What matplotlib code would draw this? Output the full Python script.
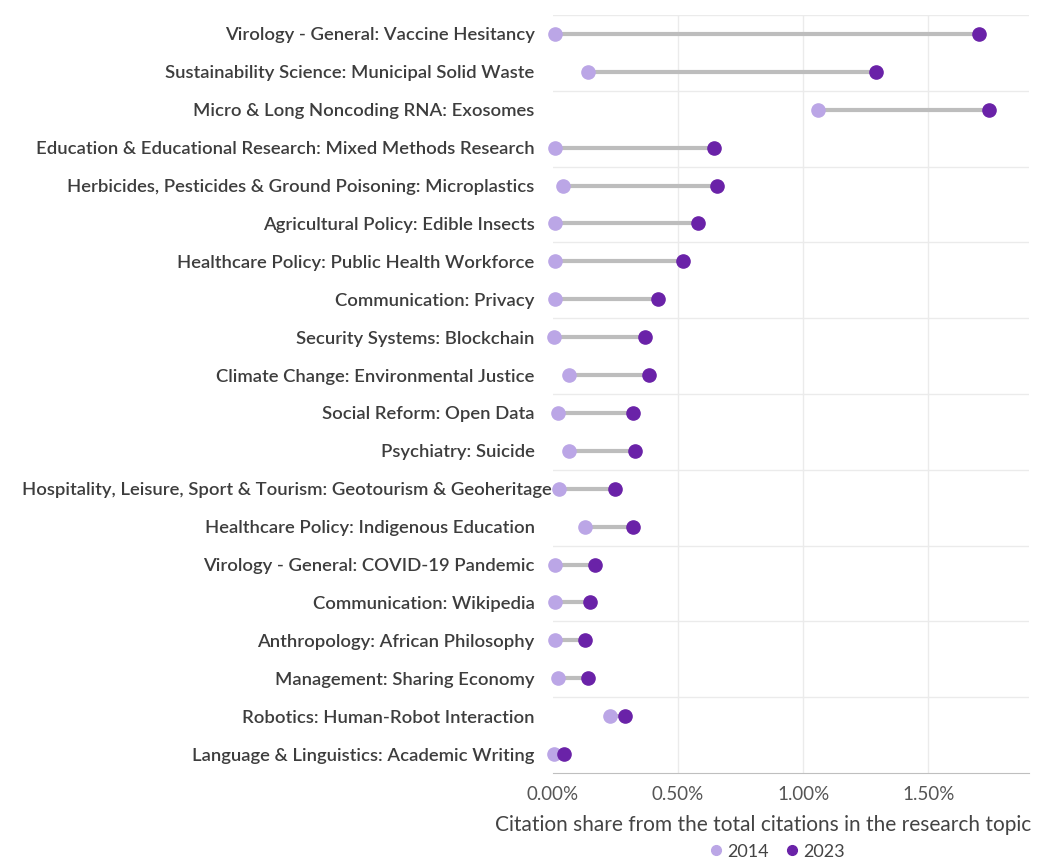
import matplotlib
matplotlib.use("Agg")
import matplotlib.pyplot as plt
import matplotlib.transforms as mtransforms
from matplotlib.ticker import FuncFormatter
from matplotlib.lines import Line2D

# topics, top to bottom
topics = [
    "Virology - General: Vaccine Hesitancy",
    "Sustainability Science: Municipal Solid Waste",
    "Micro & Long Noncoding RNA: Exosomes",
    "Education & Educational Research: Mixed Methods Research",
    "Herbicides, Pesticides & Ground Poisoning: Microplastics",
    "Agricultural Policy: Edible Insects",
    "Healthcare Policy: Public Health Workforce",
    "Communication: Privacy",
    "Security Systems: Blockchain",
    "Climate Change: Environmental Justice",
    "Social Reform: Open Data",
    "Psychiatry: Suicide",
    "Hospitality, Leisure, Sport & Tourism: Geotourism & Geoheritage",
    "Healthcare Policy: Indigenous Education",
    "Virology - General: COVID-19 Pandemic",
    "Communication: Wikipedia",
    "Anthropology: African Philosophy",
    "Management: Sharing Economy",
    "Robotics: Human-Robot Interaction",
    "Language & Linguistics: Academic Writing",
]

# citation share in %
share_2014 = [0.01, 0.14, 1.06, 0.01, 0.04, 0.01, 0.01, 0.01, 0.005, 0.065,
              0.02, 0.065, 0.025, 0.13, 0.01, 0.01, 0.01, 0.02, 0.23, 0.005]
share_2023 = [1.70, 1.29, 1.74, 0.645, 0.655, 0.58, 0.52, 0.42, 0.37, 0.385,
              0.32, 0.33, 0.25, 0.32, 0.17, 0.15, 0.13, 0.14, 0.29, 0.045]

c14 = "#BBA6E6"
c23 = "#6A22A8"
txt = "#3d3d3d"

fig = plt.figure(figsize=(10.37, 8.61), dpi=100)
ax = fig.add_axes([0.533, 0.1022, 0.992 - 0.533, 0.9826 - 0.1022])

y = list(range(len(topics)))
for i in y:
    ax.plot([share_2014[i], share_2023[i]], [i, i], color="#BDBDBD", lw=3,
            solid_capstyle="butt", zorder=2, clip_on=False)
ax.plot(share_2014, y, "o", color=c14, ms=9.5, zorder=3, label="2014", clip_on=False)
ax.plot(share_2023, y, "o", color=c23, ms=9.5, zorder=4, label="2023", clip_on=False)

ax.set_ylim(len(topics) - 0.5, -0.5)
ax.set_xlim(0, 1.9)
ax.set_xticks([0, 0.5, 1.0, 1.5])
ax.xaxis.set_major_formatter(FuncFormatter(lambda v, p: "%.2f%%" % v))

# grid lines between every second row
for g in range(0, len(topics), 2):
    ax.axhline(g - 0.5, color="#EBEBEB", lw=1, zorder=0)
for xv in [0.5, 1.0, 1.5]:
    ax.axvline(xv, color="#EBEBEB", lw=1, zorder=0)

for s in ["top", "right", "left"]:
    ax.spines[s].set_visible(False)
ax.spines["bottom"].set_color("#BFBFBF")

ax.set_yticks(y)
ax.set_yticklabels(topics, fontsize=13.3, color=txt, fontfamily="Lato",
                   fontweight="semibold")
ax.tick_params(axis="y", length=0, pad=13)
ax.tick_params(axis="x", length=0, pad=9, labelsize=13.5, labelcolor="#555555")
for lab in ax.get_xticklabels():
    lab.set_fontfamily("Lato")

# the long label overflows toward the axis
long_lab = ax.get_yticklabels()[12]
long_lab.set_transform(long_lab.get_transform() +
                       mtransforms.ScaledTranslation(17 / 100, 0, fig.dpi_scale_trans))

ax.set_xlabel("Citation share from the total citations in the research topic",
              fontsize=15, color="#444444", fontfamily="Lato")
ax.xaxis.set_label_coords(0.443, -0.055)

handles = [Line2D([], [], marker="o", ls="", color=c14, ms=7),
           Line2D([], [], marker="o", ls="", color=c23, ms=7)]
leg = fig.legend(handles, ["2014", "2023"], loc="center", ncol=2,
                 bbox_to_anchor=(0.748, 0.011), frameon=False,
                 handletextpad=0.1, columnspacing=0.8, handlelength=1,
                 prop={"family": "Lato", "size": 13})
for t in leg.get_texts():
    t.set_color("#444444")

fig.savefig("out.png", dpi=100, facecolor="white")
